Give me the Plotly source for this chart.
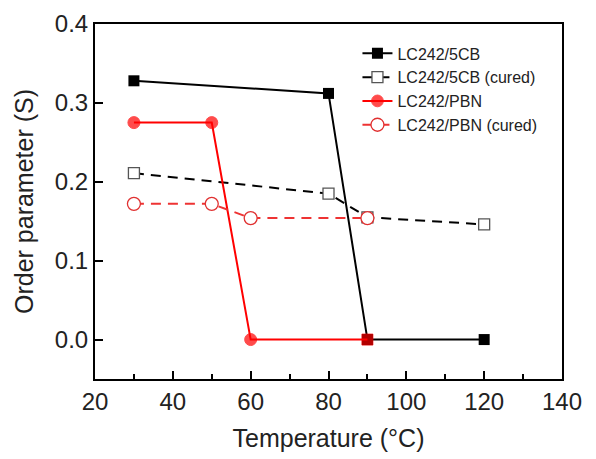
import plotly.graph_objects as go

temp_5cb = [30, 80, 90, 120]
s_5cb = [0.328, 0.312, 0.0, 0.0]
temp_5cb_cured = [30, 80, 90, 120]
s_5cb_cured = [0.211, 0.185, 0.155, 0.146]
temp_pbn = [30, 50, 60, 90]
s_pbn = [0.275, 0.275, 0.0, 0.0]
temp_pbn_cured = [30, 50, 60, 90]
s_pbn_cured = [0.172, 0.172, 0.154, 0.154]

FONT = "Liberation Sans, Arial"
fig = go.Figure()
fig.add_trace(go.Scatter(
    x=temp_5cb, y=s_5cb, name="LC242/5CB", mode="lines+markers",
    line=dict(color="black", width=2),
    marker=dict(symbol="square", size=11, color="black")))
fig.add_trace(go.Scatter(
    x=temp_5cb_cured, y=s_5cb_cured, name="LC242/5CB (cured)", mode="lines+markers",
    line=dict(color="black", width=2, dash="10px,7px"),
    marker=dict(symbol="square", size=11, color="white", line=dict(color="#555555", width=1.3))))
fig.add_trace(go.Scatter(
    x=temp_pbn, y=s_pbn, name="LC242/PBN", mode="lines+markers",
    line=dict(color="#ff0000", width=2),
    marker=dict(symbol=["circle", "circle", "circle", "square"], size=[12, 12, 12, 11],
                color="#ff0000", line=dict(color="#ff0000", width=1))))
fig.add_trace(go.Scatter(
    x=temp_pbn_cured, y=s_pbn_cured, name="LC242/PBN (cured)", mode="lines+markers",
    line=dict(color="#ee3333", width=2, dash="10px,7px"),
    marker=dict(symbol="circle", size=13, color="white", line=dict(color="#e03030", width=1.3))))

axis_common = dict(
    showline=True, linecolor="black", linewidth=2, mirror=True,
    ticks="inside", tickcolor="black", tickwidth=2, ticklen=8,
    showgrid=False, zeroline=False, automargin=False,
    ticklabeloverflow="allow",
    tickfont=dict(family=FONT, size=24, color="#222"),
)
fig.update_xaxes(
    range=[20, 140], tickvals=[20, 40, 60, 80, 100, 120, 140],
    minor=dict(dtick=10, ticks="inside", ticklen=5, tickwidth=2, tickcolor="black"),
    title=dict(text="Temperature (°C)", font=dict(family=FONT, size=25, color="#222"), standoff=16),
    **axis_common)
fig.update_yaxes(
    range=[-0.05, 0.4], tickvals=[0.0, 0.1, 0.2, 0.3, 0.4], tickformat=".1f",
    title=dict(text="Order parameter (S)", font=dict(family=FONT, size=25, color="#222"), standoff=14),
    **axis_common)

fig.update_layout(
    width=596, height=459,
    margin=dict(l=87, r=42, t=16, b=88),
    plot_bgcolor="white", paper_bgcolor="white",
    legend=dict(x=0.562, y=0.965, xanchor="left", yanchor="top",
                font=dict(family=FONT, size=16, color="#222"),
                bgcolor="rgba(0,0,0,0)", tracegroupgap=0, itemwidth=30),
    showlegend=True,
)

fig.write_html("out.html")
